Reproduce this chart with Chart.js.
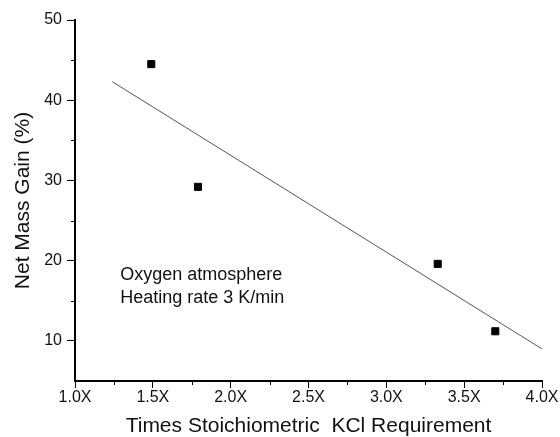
<!DOCTYPE html>
<html>
<head>
<meta charset="utf-8">
<script src="https://cdn.jsdelivr.net/npm/chart.js@4.4.1/dist/chart.umd.min.js"></script>
<style>
  html, body { margin: 0; padding: 0; background: #fff; }
  #wrap { width: 560px; height: 437px; position: relative; }
</style>
</head>
<body>
<div id="wrap"><canvas id="massChart"></canvas></div>
<script>
// measured points: times stoichiometric KCl vs net mass gain
const kclRatio = [1.49, 1.79, 3.33, 3.70];
const massGain = [44.5, 29.2, 19.6, 11.2];

// linear fit, drawn as a straight segment
const fitRatio = [1.24, 4.0];
const fitGain = [42.3, 9.0];

const xTicks = [1.0, 1.5, 2.0, 2.5, 3.0, 3.5, 4.0];
const yTicks = [10, 20, 30, 40, 50];
const xMinor = [1.25, 1.75, 2.25, 2.75, 3.25, 3.75];
const yMinor = [15, 25, 35, 45];

const noteLines = ['Oxygen atmosphere', 'Heating rate 3 K/min'];

const FONT = '"Liberation Sans", Arial, Helvetica, sans-serif';

// minor ticks + the note text, placed through the scales
const extrasPlugin = {
  id: 'extras',
  afterDraw(chart) {
    const ctx = chart.ctx;
    const x = chart.scales.x;
    const y = chart.scales.y;
    const area = chart.chartArea;
    ctx.save();
    ctx.strokeStyle = '#000';
    ctx.lineWidth = 1;
    yMinor.forEach(v => {
      const py = Math.round(y.getPixelForValue(v)) + 0.5;
      ctx.beginPath();
      ctx.moveTo(area.left - 4, py);
      ctx.lineTo(area.left, py);
      ctx.stroke();
    });
    xMinor.forEach(v => {
      const px = Math.round(x.getPixelForValue(v)) + 0.5;
      ctx.beginPath();
      ctx.moveTo(px, area.bottom);
      ctx.lineTo(px, area.bottom + 4);
      ctx.stroke();
    });

    ctx.fillStyle = '#111';
    ctx.font = '18px ' + FONT;
    ctx.textAlign = 'left';
    ctx.textBaseline = 'alphabetic';
    const nx = x.getPixelForValue(1.29);
    const ny = y.getPixelForValue(17.6);
    noteLines.forEach((t, i) => ctx.fillText(t, nx, ny + i * 23));
    ctx.restore();
  }
};

const ctx = document.getElementById('massChart').getContext('2d');
new Chart(ctx, {
  type: 'scatter',
  data: {
    datasets: [
      {
        label: 'Net mass gain',
        data: kclRatio.map((v, i) => ({ x: v, y: massGain[i] })),
        pointStyle: 'rect',
        pointRadius: 5,
        backgroundColor: '#000',
        borderColor: '#000',
        borderWidth: 1,
        showLine: false
      },
      {
        label: 'Fit',
        data: fitRatio.map((v, i) => ({ x: v, y: fitGain[i] })),
        showLine: true,
        pointRadius: 0,
        borderColor: '#555',
        borderWidth: 1,
        fill: false
      }
    ]
  },
  options: {
    responsive: true,
    maintainAspectRatio: false,
    animation: false,
    layout: { padding: { top: 20, right: 18, bottom: 0, left: 0 } },
    plugins: {
      legend: { display: false },
      tooltip: { enabled: false }
    },
    scales: {
      x: {
        type: 'linear',
        min: 1.0,
        max: 4.0,
        afterBuildTicks: axis => { axis.ticks = xTicks.map(v => ({ value: v })); },
        afterFit: axis => { axis.height = 56; },
        grid: { drawOnChartArea: false, tickLength: 7, tickColor: '#000', tickWidth: 1 },
        border: { display: true, color: '#000', width: 2 },
        ticks: {
          color: '#111',
          padding: 0,
          maxRotation: 0,
          font: { family: FONT, size: 16 },
          callback: v => v.toFixed(1) + 'X'
        },
        title: {
          display: true,
          text: 'Times Stoichiometric  KCl Requirement',
          color: '#111',
          font: { family: FONT, size: 21, lineHeight: 1.0 },
          padding: { top: 0, bottom: 0 }
        }
      },
      y: {
        type: 'linear',
        min: 5,
        max: 50,
        afterBuildTicks: axis => { axis.ticks = yTicks.map(v => ({ value: v })); },
        afterFit: axis => { axis.width = 75; },
        grid: { drawOnChartArea: false, tickLength: 8, tickColor: '#000', tickWidth: 1 },
        border: { display: true, color: '#000', width: 2 },
        ticks: {
          color: '#111',
          padding: 5,
          font: { family: FONT, size: 16 }
        },
        title: {
          display: true,
          text: 'Net Mass Gain (%)',
          color: '#111',
          font: { family: FONT, size: 21 },
          padding: { top: 11, bottom: 0 }
        }
      }
    }
  },
  plugins: [extrasPlugin]
});
</script>
</body>
</html>
